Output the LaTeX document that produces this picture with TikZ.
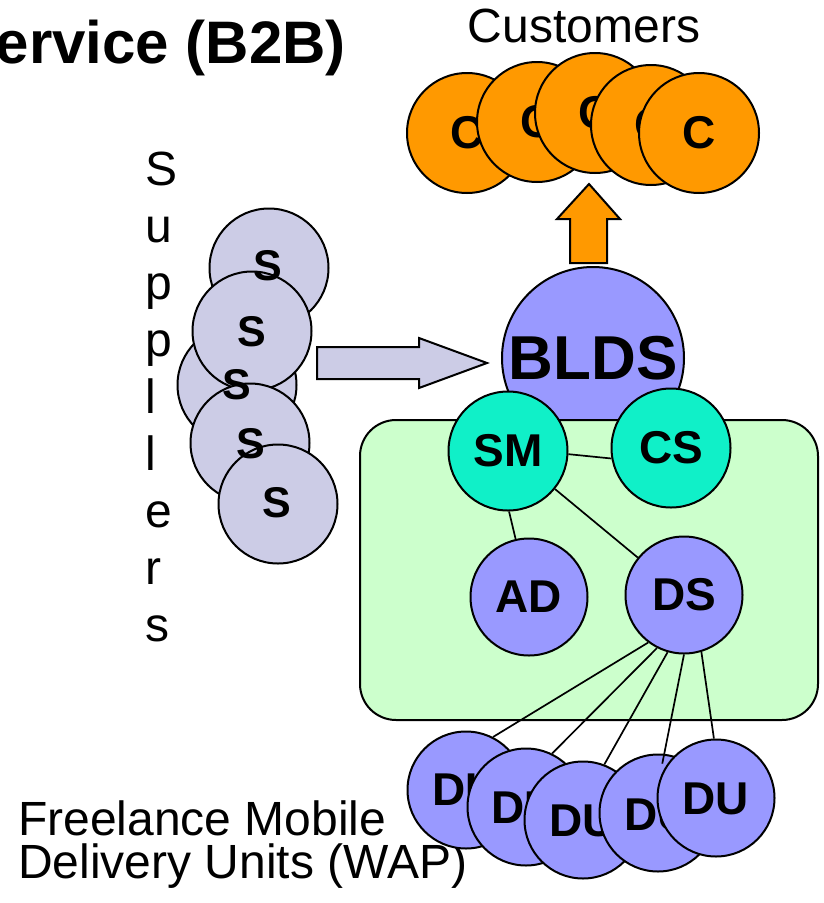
\documentclass[tikz,border=0pt]{standalone}
\usepackage{fontspec}
\setmainfont{Liberation Sans}
\definecolor{custorange}{HTML}{FF9900}
\definecolor{suplav}{HTML}{CCCCE6}
\definecolor{blu}{HTML}{9999FF}
\definecolor{tealc}{RGB}{16,240,200}
\definecolor{greenbox}{HTML}{CCFFCC}
\tikzset{
  ball/.style={circle, draw=black, line width=2pt, inner sep=0pt, minimum size=#1},
  cball/.style={ball=120pt, fill=custorange},
  sball/.style={ball=119pt, fill=suplav},
  dball/.style={ball=117pt, fill=blu},
  tball/.style={ball=119pt, fill=tealc},
  lbl/.style={font=\fontsize{46}{46}\selectfont\bfseries, inner sep=0pt},
  slbl/.style={font=\fontsize{43}{43}\selectfont\bfseries, inner sep=0pt},
  plain/.style={font=\fontsize{48}{48}\selectfont, inner sep=0pt},
  link/.style={line width=1.7pt},
  blockarrow/.style={draw=black, line width=2pt, line join=miter},
}
\begin{document}
\begin{tikzpicture}[x=1pt,y=-1pt]
\useasboundingbox (0,0) rectangle (824,903);
\clip (0,0) rectangle (824,903);

% title and captions
\node[anchor=base east, font=\fontsize{60}{60}\selectfont\bfseries, inner sep=0pt] (title) at (346,63) {ervice (B2B)};
\node[plain, anchor=base] (custlabel) at (584,42) {Customers};
\node[plain, anchor=base west] (fmdu1) at (18,835) {Freelance Mobile};
\node[plain, anchor=base west] (fmdu2) at (18,878) {Delivery Units (WAP)};
\foreach \ch [count=\i from 0] in {S,u,p,p,l,l,e,r,s}
  \node[plain, anchor=base west] (sup\i) at (145,{185+57*\i}) {\ch};

% customers
\node[cball] (c1) at (467,133) {}; \node[lbl] (c1t) at (467,133) {C};
\node[cball] (c2) at (537,122) {}; \node[lbl] (c2t) at (537,122) {C};
\node[cball] (c3) at (595,113) {}; \node[lbl] (c3t) at (595,113) {C};
\node[cball] (c4) at (651,125) {}; \node[lbl] (c4t) at (651,125) {C};
\node[cball] (c5) at (699,133) {}; \node[lbl] (c5t) at (699,133) {C};

% up arrow
\draw[blockarrow, fill=custorange] (570,263) -- (570,219) -- (557,219) -- (589,184) -- (620,219) -- (607,219) -- (607,263) -- cycle;

% suppliers
\node[sball] (s1) at (269,268) {};
\node[sball] (s3) at (237,385) {};
\node[sball] (s2) at (252,331) {};
\node[sball] (s4) at (250,443) {};
\node[sball] (s5) at (278,504) {};
\node[slbl] (s1t) at (268,266) {S};
\node[slbl] (s2t) at (252,332) {S};
\node[slbl] (s3t) at (237,385) {S};
\node[slbl] (s4t) at (251,444) {S};
\node[slbl] (s5t) at (277,503) {S};

% right arrow
\draw[blockarrow, fill=suplav] (317,347) -- (419,347) -- (419,338) -- (487,363) -- (419,388) -- (419,379) -- (317,379) -- cycle;

% BLDS
\node[ball=182pt, fill=blu, font=\fontsize{62}{62}\selectfont\bfseries] (blds) at (593,358) {BLDS};

% green panel
\node[draw=black, line width=2pt, fill=greenbox, rounded corners=36pt, minimum width=458pt, minimum height=300pt, inner sep=0pt] (panel) at (589,570) {};

\node[tball, lbl] (sm) at (508,451) {SM};
\node[tball, lbl] (cs) at (671,448) {CS};
\node[dball, lbl] (ad) at (529,597) {AD};
\node[dball, lbl] (ds) at (684,595) {DS};

\draw[link] (sm.-3) -- (cs.190);
\draw[link] (sm.-89) -- (ad.103);
\draw[link] (sm.-39) -- (ds.141);

% delivery units
\node[dball] (du1) at (466,790) {}; \node[lbl] (du1t) at (466,790) {DU};
\node[dball] (du2) at (526,807) {}; \node[lbl] (du2t) at (525,808) {DU};
\node[dball] (du3) at (583,820) {}; \node[lbl] (du3t) at (583,821) {DU};
\node[dball] (du4) at (658,813) {}; \node[lbl] (du4t) at (658,815) {DU};
\node[dball] (du5) at (716,798) {}; \node[lbl] (du5t) at (716,799) {DU};

\draw[link] (ds.233) -- (du1.63);
\draw[link] (ds.243) -- (du2.64);
\draw[link] (ds.254) -- (du3.69);
\draw[link, shorten >=-10pt] (ds.270) -- (du4.84);
\draw[link] (ds.287) -- (du5.92);
\end{tikzpicture}
\end{document}
